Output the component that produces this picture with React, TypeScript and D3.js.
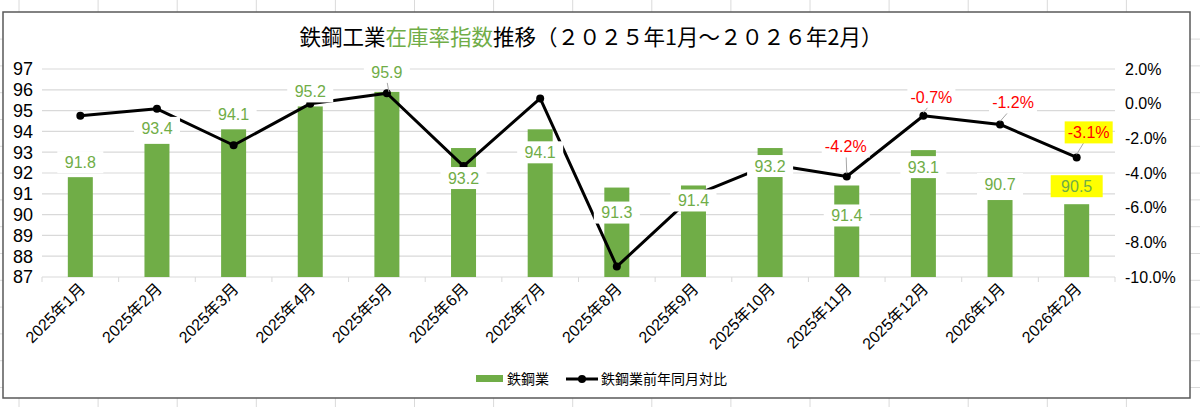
import React from 'react';
import * as d3 from 'd3';

const categories = ['2025年1月', '2025年2月', '2025年3月', '2025年4月', '2025年5月', '2025年6月', '2025年7月', '2025年8月', '2025年9月', '2025年10月', '2025年11月', '2025年12月', '2026年1月', '2026年2月'];
const inventoryIndex = [91.8, 93.4, 94.1, 95.2, 95.9, 93.2, 94.1, 91.3, 91.4, 93.2, 91.4, 93.1, 90.7, 90.5];
const yoyChange = [-0.7, -0.3, -2.4, 0.0, 0.6, -3.6, 0.3, -9.4, -5.3, -3.5, -4.2, -0.7, -1.2, -3.1];
const leftTicks = [87, 88, 89, 90, 91, 92, 93, 94, 95, 96, 97];
const rightTicks = [2, 0, -2, -4, -6, -8, -10];
const pctLabelIndices = [10, 11, 12, 13];
const highlightIndex = 13;
const seriesNames = ['鉄鋼業', '鉄鋼業前年同月対比'];

// layout (px offsets for data labels)
const barLabelDy = [-15, -16, -15, -15, -20, 30, 23, 25, 15, 18, 30, 17, -16, -18];
const pctLabelOffset: Record<number, [number, number]> = { 10: [-1, -30], 11: [8, -19], 12: [13, -22], 13: [12, -25] };

const GREEN = '#70AD47';
const FONT = "'Liberation Sans', Arial, 'Noto Sans CJK JP', sans-serif";
const CJK = "'Noto Sans CJK JP', 'Liberation Sans', sans-serif";
const fmt1 = (v: number) => v.toFixed(1);

export default function App() {
  const W = 1200, H = 407;
  const x = d3.scaleBand<string>().domain(categories).range([42, 1115]).padding(0);
  const yL = d3.scaleLinear().domain([87, 97]).range([277, 69]);
  const yR = d3.scaleLinear().domain([-10, 2]).range([277, 69]);
  const cx = (i: number) => (x(categories[i]) as number) + x.bandwidth() / 2;
  const barW = 25;
  const line = d3.line<number>().x((_, i) => cx(i)).y((d) => yR(d));

  const colLines = d3.range(0, 16).map((k) => 19 + k * 79.1);
  const rowLines = d3.range(1, 16).map((k) => 12.3 + k * 26.8);

  return (
    <svg width={W} height={H} style={{ position: 'absolute', left: 0, top: 0, background: '#fff' }}>
      {/* spreadsheet cell grid behind chart */}
      {colLines.map((v, i) => <line key={'c' + i} x1={v} x2={v} y1={0} y2={H} stroke="#dadada" strokeWidth={1} />)}
      {rowLines.map((v, i) => <line key={'r' + i} x1={0} x2={W} y1={v} y2={v} stroke="#dadada" strokeWidth={1} />)}
      <rect x={3} y={12} width={1187} height={386} fill="#fff" stroke="#595959" strokeWidth={1.5} />

      {/* title */}
      <text x={591} y={45} textAnchor="middle" fontFamily={CJK} fontSize={21.5} fill="#000">
        鉄鋼工業<tspan fill={GREEN}>在庫率指数</tspan>推移（２０２５年1月～２０２６年2月）
      </text>

      {/* gridlines */}
      {leftTicks.map((t) => (
        <line key={'g' + t} x1={42} x2={1115} y1={yL(t)} y2={yL(t)} stroke="#d9d9d9" strokeWidth={1.2} />
      ))}
      {/* x tick marks */}
      {d3.range(0, categories.length + 1).map((i) => {
        const xv = 42 + i * x.bandwidth();
        return <line key={'xt' + i} x1={xv} x2={xv} y1={277} y2={282} stroke="#d9d9d9" strokeWidth={1} />;
      })}

      {/* left axis labels */}
      {leftTicks.map((t) => (
        <text key={'l' + t} x={33} y={yL(t)} dy="0.35em" textAnchor="end" fontFamily={FONT} fontSize={18} fill="#000">{t}</text>
      ))}
      {/* right axis labels */}
      {rightTicks.map((t) => (
        <text key={'rr' + t} x={1125} y={yR(t)} dy="0.35em" textAnchor="start" fontFamily={FONT} fontSize={16} fill="#000">{fmt1(t) + '%'}</text>
      ))}

      {/* bars */}
      {inventoryIndex.map((v, i) => (
        <rect key={'b' + i} x={cx(i) - barW / 2} y={yL(v)} width={barW} height={yL(87) - yL(v)} fill={GREEN} />
      ))}

      {/* line */}
      <path d={line(yoyChange) || ''} fill="none" stroke="#000" strokeWidth={3} strokeLinejoin="round" />
      {yoyChange.map((v, i) => <circle key={'p' + i} cx={cx(i)} cy={yR(v)} r={4} fill="#000" />)}

      {/* leader line for May bar label */}
      <line x1={cx(4)} y1={yL(inventoryIndex[4]) + barLabelDy[4] + 9} x2={cx(4) + 2} y2={yL(inventoryIndex[4])} stroke="#a6a6a6" strokeWidth={1} />

      {/* bar data labels */}
      {inventoryIndex.map((v, i) => {
        const ly = yL(v) + barLabelDy[i];
        const hl = i === highlightIndex;
        return (
          <g key={'bl' + i}>
            <rect x={cx(i) - (hl ? 26 : 23)} y={ly - 11} width={hl ? 52 : 46} height={22} fill={hl ? '#FFFF00' : '#fff'} />
            <text x={cx(i)} y={ly} dy="0.36em" textAnchor="middle" fontFamily={FONT} fontSize={16} fill={GREEN}>{fmt1(v)}</text>
          </g>
        );
      })}

      {/* pct labels */}
      {pctLabelIndices.map((i) => {
        const [dx, dy] = pctLabelOffset[i];
        const px = cx(i), py = yR(yoyChange[i]);
        const lx = px + dx, ly = py + dy;
        const hl = i === highlightIndex;
        return (
          <g key={'pl' + i}>
            <line x1={lx - dx * 0.4} y1={ly + 10} x2={px} y2={py - 3} stroke="#a6a6a6" strokeWidth={1} />
            <rect x={lx - 24} y={ly - 11} width={48} height={22} fill={hl ? '#FFFF00' : '#fff'} />
            <text x={lx} y={ly} dy="0.36em" textAnchor="middle" fontFamily={FONT} fontSize={16} fill="#FF0000">{fmt1(yoyChange[i]) + '%'}</text>
          </g>
        );
      })}

      {/* x labels */}
      {categories.map((c, i) => (
        <text key={'x' + i} transform={`translate(${cx(i) + 6},${290}) rotate(-45)`} textAnchor="end" fontFamily={FONT} fontSize={16} fill="#000">{c}</text>
      ))}

      {/* legend */}
      <rect x={476} y={375} width={27} height={7} fill={GREEN} />
      <text x={507} y={379} dy="0.35em" fontFamily={CJK} fontSize={14} fill="#000">{seriesNames[0]}</text>
      <line x1={566} x2={598} y1={379} y2={379} stroke="#000" strokeWidth={3} />
      <circle cx={582} cy={379} r={4} fill="#000" />
      <text x={601} y={379} dy="0.35em" fontFamily={CJK} fontSize={14} fill="#000">{seriesNames[1]}</text>
    </svg>
  );
}
